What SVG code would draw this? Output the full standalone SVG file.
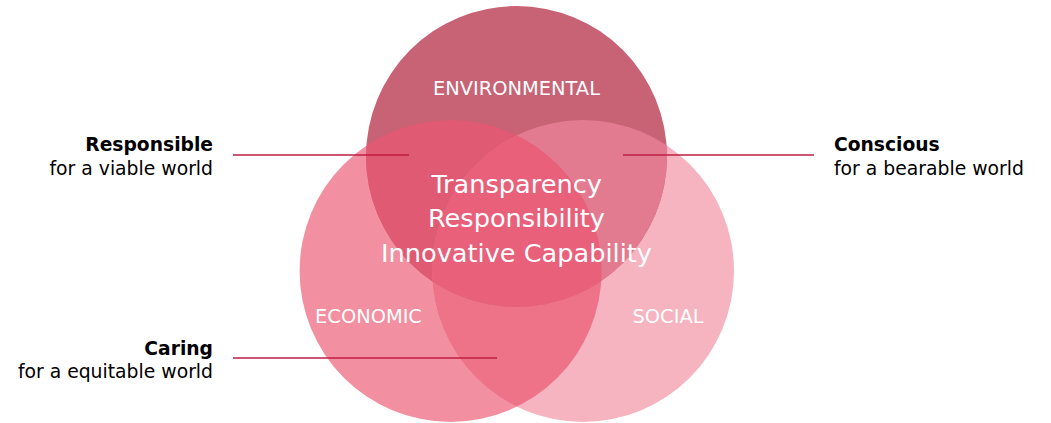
<svg xmlns="http://www.w3.org/2000/svg" width="1051" height="423" viewBox="0 0 1051 423">
<style>
.lbl{font-family:"DejaVu Sans","Liberation Sans",sans-serif;fill:#000;}
.b{font-weight:bold;font-size:18.7px;}
.n{font-size:18.8px;}
.w{font-family:"DejaVu Sans","Liberation Sans",sans-serif;fill:#fff;text-anchor:middle;}
.cat{font-size:19.4px;}
.core{font-size:25.6px;}
.conn{stroke:#BF1E45;stroke-width:1.4;fill:none;}
</style>
<defs>
<clipPath id="cEnv"><circle cx="516.5" cy="156.5" r="150.5"/></clipPath>
<clipPath id="cEco"><circle cx="450.6" cy="271" r="151"/></clipPath>
<clipPath id="cSoc"><circle cx="583" cy="271" r="151"/></clipPath>
</defs>
<rect width="1051" height="423" fill="#fff"/>
<g id="economic">
<circle cx="450.6" cy="271" r="151" fill="#F28FA0"/>
</g>
<g id="social">
<circle cx="583" cy="271" r="151" fill="#F5B4C0"/>
<circle cx="583" cy="271" r="151" fill="#EE7389" clip-path="url(#cEco)"/>
</g>
<g id="environmental">
<circle cx="516.5" cy="156.5" r="150.5" fill="#C86275"/>
<circle cx="450.6" cy="271" r="151" fill="#DF5A72" clip-path="url(#cEnv)"/>
<circle cx="583" cy="271" r="151" fill="#E27B90" clip-path="url(#cEnv)"/>
<g clip-path="url(#cEco)"><circle cx="583" cy="271" r="151" fill="#E8607A" clip-path="url(#cEnv)"/></g>
</g>
<g id="labels-circles">
<text class="w cat" x="516.5" y="95">ENVIRONMENTAL</text>
<text class="w cat" x="368.5" y="322.5">ECONOMIC</text>
<text class="w cat" x="668" y="322.5">SOCIAL</text>
</g>
<g id="core">
<text class="w core" x="516.5" y="193">Transparency</text>
<text class="w core" x="516.5" y="227">Responsibility</text>
<text class="w core" x="516.5" y="262">Innovative Capability</text>
</g>
<g id="connectors">
<line class="conn" x1="233" y1="155" x2="409" y2="155"/>
<line class="conn" x1="623" y1="155" x2="814" y2="155"/>
<line class="conn" x1="233" y1="358" x2="497" y2="358"/>
</g>
<g id="responsible">
<text class="lbl b" x="213" y="151" text-anchor="end">Responsible</text>
<text class="lbl n" x="213" y="175" text-anchor="end">for a viable world</text>
</g>
<g id="conscious">
<text class="lbl b" x="834" y="151">Conscious</text>
<text class="lbl n" x="834" y="175">for a bearable world</text>
</g>
<g id="caring">
<text class="lbl b" x="213" y="355" text-anchor="end">Caring</text>
<text class="lbl n" x="213" y="378" text-anchor="end">for a equitable world</text>
</g>
</svg>
